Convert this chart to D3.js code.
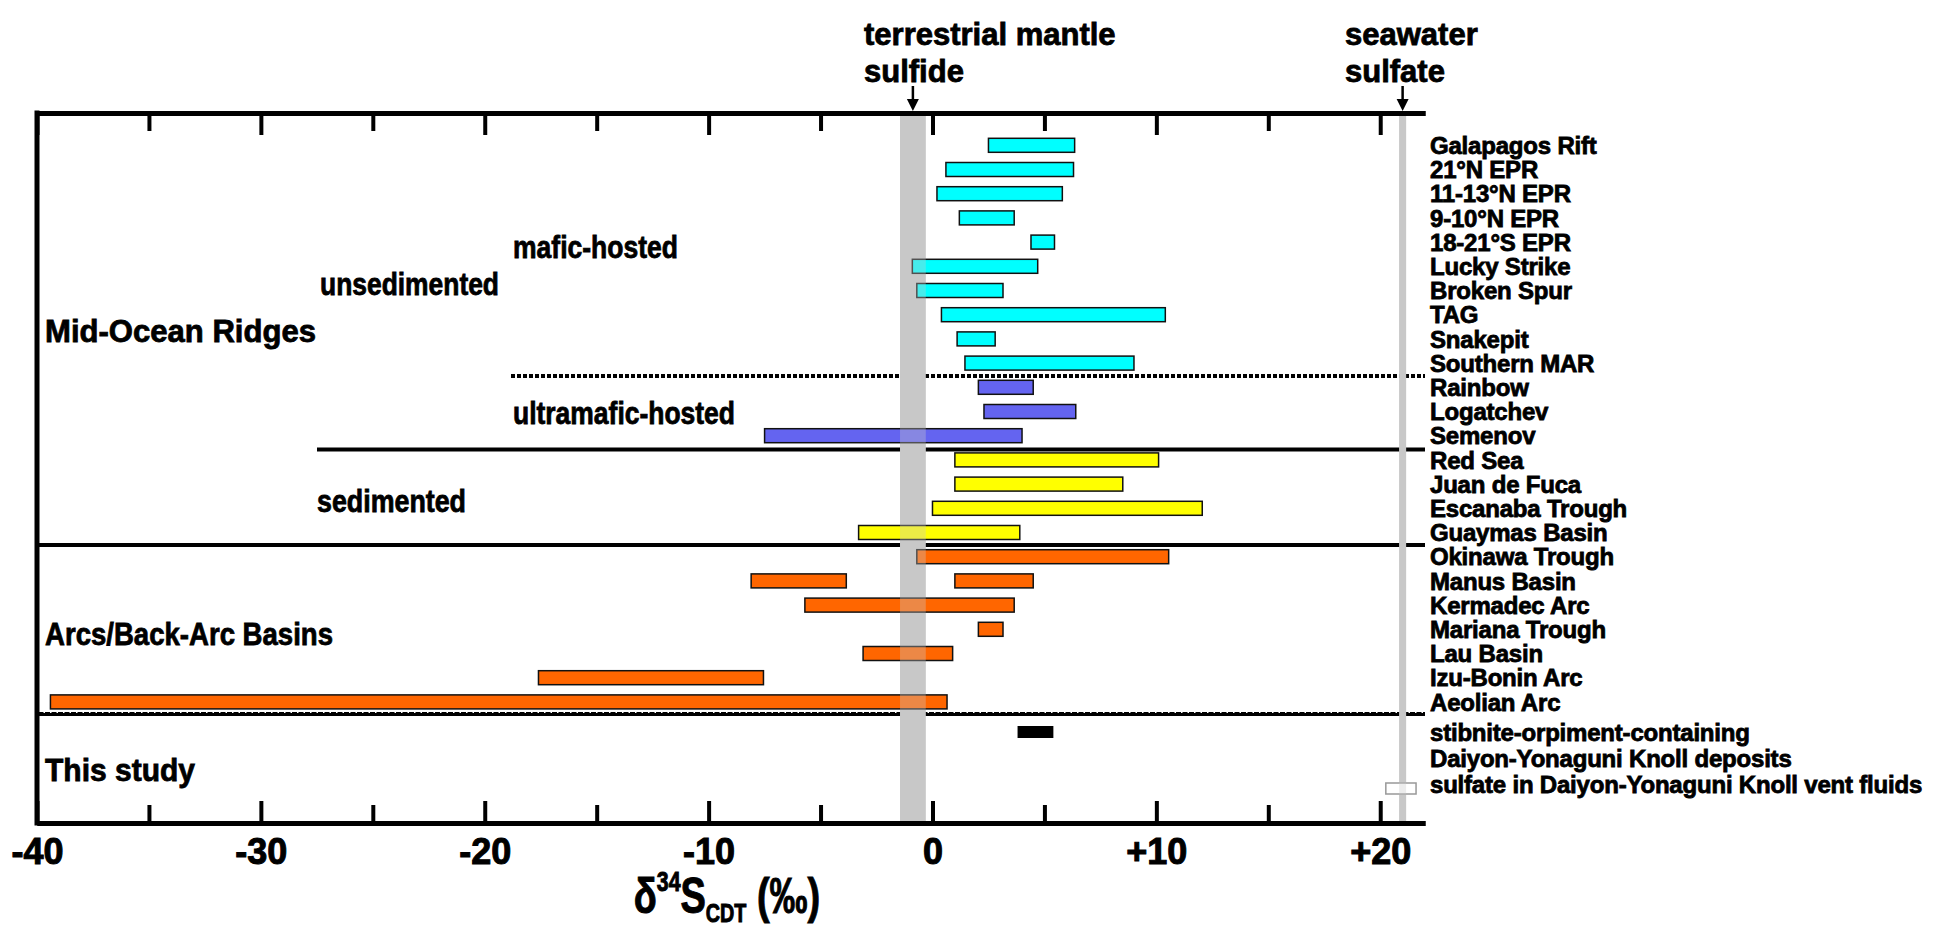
<!doctype html>
<html>
<head>
<meta charset="UTF-8">
<title>sulfur isotope ranges</title>
<script src="https://d3js.org/d3.v7.min.js"></script>
<style>
  body { margin: 0; background: #fff; }
  text { font-family: "Liberation Sans", Arial, sans-serif; font-weight: bold; fill: #000; }
</style>
</head>
<body>
<script>
// ---- data ----
var sites = ["Galapagos Rift", "21°N EPR", "11-13°N EPR", "9-10°N EPR", "18-21°S EPR",
  "Lucky Strike", "Broken Spur", "TAG", "Snakepit", "Southern MAR",
  "Rainbow", "Logatchev", "Semenov",
  "Red Sea", "Juan de Fuca", "Escanaba Trough", "Guaymas Basin",
  "Okinawa Trough", "Manus Basin", "Kermadec Arc", "Mariana Trough", "Lau Basin", "Izu-Bonin Arc", "Aeolian Arc"];
var siteType = ["mafic", "mafic", "mafic", "mafic", "mafic", "mafic", "mafic", "mafic", "mafic", "mafic",
  "ultramafic", "ultramafic", "ultramafic",
  "sediment", "sediment", "sediment", "sediment",
  "arc", "arc", "arc", "arc", "arc", "arc", "arc"];

// one entry per bar (Manus Basin has two ranges)
var barSite = ["Galapagos Rift", "21°N EPR", "11-13°N EPR", "9-10°N EPR", "18-21°S EPR",
  "Lucky Strike", "Broken Spur", "TAG", "Snakepit", "Southern MAR",
  "Rainbow", "Logatchev", "Semenov",
  "Red Sea", "Juan de Fuca", "Escanaba Trough", "Guaymas Basin",
  "Okinawa Trough", "Manus Basin", "Manus Basin", "Kermadec Arc", "Mariana Trough", "Lau Basin", "Izu-Bonin Arc", "Aeolian Arc"];
var barLow  = [2.5, 0.6, 0.2, 1.2, 4.4, -0.9, -0.7, 0.4, 1.1, 1.45, 2.05, 2.3, -7.5,
  1.0, 1.0, 0.0, -3.3, -0.7, -8.1, 1.0, -5.7, 2.05, -3.1, -17.6, -39.4];
var barHigh = [6.35, 6.3, 5.8, 3.65, 5.45, 4.7, 3.15, 10.4, 2.8, 9.0, 4.5, 6.4, 4.0,
  10.1, 8.5, 12.05, 3.9, 10.55, -3.85, 4.5, 3.65, 3.15, 0.9, -7.55, 0.65];

var studyLabels = ["stibnite-orpiment-containing", "Daiyon-Yonaguni Knoll deposits", "sulfate in Daiyon-Yonaguni Knoll vent fluids"];
var studyLow  = [3.8, 20.25];
var studyHigh = [5.4, 21.6];

var mantleSulfide = [-1.45, -0.3];
var seawaterSulfate = 21;

var majorTicks = [-40, -30, -20, -10, 0, 10, 20];
var minorTicks = [-35, -25, -15, -5, 5, 15];
var tickLabels = ["-40", "-30", "-20", "-10", "0", "+10", "+20"];

// ---- layout ----
var W = 1944, H = 931;
var yTop = 113, yBot = 823;
var colors = { mafic: "#00ffff", ultramafic: "#6464f0", sediment: "#ffff00", arc: "#ff6600" };

var svg = d3.select("body").append("svg").attr("width", W).attr("height", H);

var x = d3.scaleLinear().domain([-40, 22]).range([37, 1425]);
var y = d3.scalePoint().domain(sites).range([145.3, 701.9]);
var yStudy = d3.scalePoint().domain(["bar", "sulfate"]).range([732, 788]);

var barH = 14;

// squeeze a text to a given width
function fit(sel, w) {
  sel.attr("textLength", w).attr("lengthAdjust", "spacingAndGlyphs");
}

// separators
svg.append("line").attr("x1", 511).attr("x2", x(22)).attr("y1", 376).attr("y2", 376)
  .attr("stroke", "#000").attr("stroke-width", 4).attr("stroke-dasharray", "4,2");
svg.append("line").attr("x1", 317).attr("x2", x(22)).attr("y1", 449.5).attr("y2", 449.5)
  .attr("stroke", "#000").attr("stroke-width", 4);
svg.append("line").attr("x1", x(-40)).attr("x2", x(22)).attr("y1", 545).attr("y2", 545)
  .attr("stroke", "#000").attr("stroke-width", 4);
svg.append("line").attr("x1", x(-40)).attr("x2", x(22)).attr("y1", 714).attr("y2", 714)
  .attr("stroke", "#000").attr("stroke-width", 4);
svg.append("line").attr("x1", x(-40)).attr("x2", x(22)).attr("y1", 712.5).attr("y2", 712.5)
  .attr("stroke", "#fff").attr("stroke-width", 1).attr("stroke-dasharray", "1.5,5");

// reference bands
function refBands(opacity) {
  svg.append("rect").attr("x", x(mantleSulfide[0])).attr("width", x(mantleSulfide[1]) - x(mantleSulfide[0]))
    .attr("y", yTop + 2).attr("height", yBot - yTop - 4).attr("fill", "#c8c8c8").attr("opacity", opacity);
  svg.append("rect").attr("x", x(seawaterSulfate) - 3.5).attr("width", 7)
    .attr("y", yTop + 2).attr("height", yBot - yTop - 4).attr("fill", "#c8c8c8").attr("opacity", opacity);
}
refBands(1);

// bars
var bars = barSite.map(function(s, i) { return { site: s, lo: barLow[i], hi: barHigh[i] }; });
svg.selectAll("rect.bar").data(bars).enter().append("rect").attr("class", "bar")
  .attr("x", function(d) { return x(d.lo); })
  .attr("width", function(d) { return x(d.hi) - x(d.lo); })
  .attr("y", function(d) { return y(d.site) - barH / 2; })
  .attr("height", barH)
  .attr("fill", function(d) { return colors[siteType[sites.indexOf(d.site)]]; })
  .attr("stroke", "#111").attr("stroke-width", 1.5);

// this study
svg.append("rect").attr("x", x(studyLow[0])).attr("width", x(studyHigh[0]) - x(studyLow[0]))
  .attr("y", yStudy("bar") - 6).attr("height", 12).attr("fill", "#000");
svg.append("rect").attr("x", x(studyLow[1])).attr("width", x(studyHigh[1]) - x(studyLow[1]))
  .attr("y", yStudy("sulfate") - 5).attr("height", 11).attr("fill", "#fff")
  .attr("stroke", "#999").attr("stroke-width", 1.5);

// translucent overlay of the bands on top of the bars
refBands(0.35);

// axes
var bottomMajor = d3.axisBottom(x).tickValues(majorTicks).tickSize(-22).tickSizeOuter(0).tickPadding(15)
  .tickFormat(function(d, i) { return tickLabels[i]; });
var bottomMinor = d3.axisBottom(x).tickValues(minorTicks).tickSize(-18).tickSizeOuter(0).tickFormat("");
var topMajor = d3.axisTop(x).tickValues(majorTicks).tickSize(-22).tickSizeOuter(0).tickFormat("");
var topMinor = d3.axisTop(x).tickValues(minorTicks).tickSize(-18).tickSizeOuter(0).tickFormat("");

function styleAxis(g) {
  g.select(".domain").attr("stroke", "#000").attr("stroke-width", 5);
  g.selectAll(".tick line").attr("stroke", "#000").attr("stroke-width", 4);
  g.selectAll(".tick text").attr("font-size", 36).attr("font-family", null).attr("fill", "#000")
    .attr("stroke", "#000").attr("stroke-width", 1);
}
svg.append("g").attr("transform", "translate(0," + yBot + ")").call(bottomMinor).call(styleAxis);
svg.append("g").attr("transform", "translate(0," + yBot + ")").call(bottomMajor).call(styleAxis);
svg.append("g").attr("transform", "translate(0," + yTop + ")").call(topMinor).call(styleAxis);
svg.append("g").attr("transform", "translate(0," + yTop + ")").call(topMajor).call(styleAxis);
svg.append("line").attr("x1", x(-40)).attr("x2", x(-40)).attr("y1", yTop - 2.5).attr("y2", yBot + 2.5)
  .attr("stroke", "#000").attr("stroke-width", 5);

// right labels
var labelX = 1430;
svg.selectAll("text.site").data(sites).enter().append("text").attr("class", "site")
  .attr("x", labelX).attr("y", function(d) { return y(d); })
  .attr("dy", "0.36em").attr("font-size", 24).attr("letter-spacing", -0.2)
  .attr("stroke", "#000").attr("stroke-width", 0.8)
  .text(function(d) { return d; });
svg.selectAll("text.study").data(studyLabels).enter().append("text").attr("class", "study")
  .attr("x", labelX).attr("y", function(d, i) { return yStudy("bar") + i * 26; })
  .attr("dy", "0.36em").attr("font-size", 24).attr("letter-spacing", -0.2)
  .attr("stroke", "#000").attr("stroke-width", 0.8)
  .text(function(d) { return d; });

// group labels: text, x, y, width
var groups = [
  ["Mid-Ocean Ridges", 45, 330, 271], ["unsedimented", 320, 283, 179], ["mafic-hosted", 513, 246, 165],
  ["ultramafic-hosted", 513, 412, 222], ["sedimented", 317, 500, 149],
  ["Arcs/Back-Arc Basins", 45, 633, 288], ["This study", 45, 769, 150]
];
groups.forEach(function(g) {
  svg.append("text").attr("x", g[1]).attr("y", g[2]).attr("dy", "0.36em")
    .attr("font-size", 32).attr("stroke", "#000").attr("stroke-width", 0.8)
    .text(g[0]).call(fit, g[3]);
});

// top annotations with arrows
function annot(lines, xText, xArrow) {
  lines.forEach(function(t, i) {
    svg.append("text").attr("x", xText).attr("y", 34 + i * 37).attr("dy", "0.36em")
      .attr("font-size", 31).attr("stroke", "#000").attr("stroke-width", 0.8).text(t);
  });
  svg.append("line").attr("x1", xArrow).attr("x2", xArrow).attr("y1", 86).attr("y2", 104)
    .attr("stroke", "#000").attr("stroke-width", 2.5);
  svg.append("path").attr("d", "M" + (xArrow - 6) + ",99 L" + (xArrow + 6) + ",99 L" + xArrow + ",111 Z")
    .attr("fill", "#000");
}
annot(["terrestrial mantle", "sulfide"], 864, x(d3.mean(mantleSulfide)));
annot(["seawater", "sulfate"], 1345, x(seawaterSulfate));

// x axis title
var title = svg.append("text").attr("transform", "translate(727,913) scale(0.76,1)").attr("text-anchor", "middle")
  .attr("font-size", 50).attr("stroke", "#000").attr("stroke-width", 1);
title.append("tspan").text("δ");
title.append("tspan").attr("font-size", 28).attr("dy", -22).text("34");
title.append("tspan").attr("dy", 22).text("S");
title.append("tspan").attr("font-size", 26).attr("dy", 9).text("CDT");
title.append("tspan").attr("dy", -9).text(" (‰)");
</script>
</body>
</html>
